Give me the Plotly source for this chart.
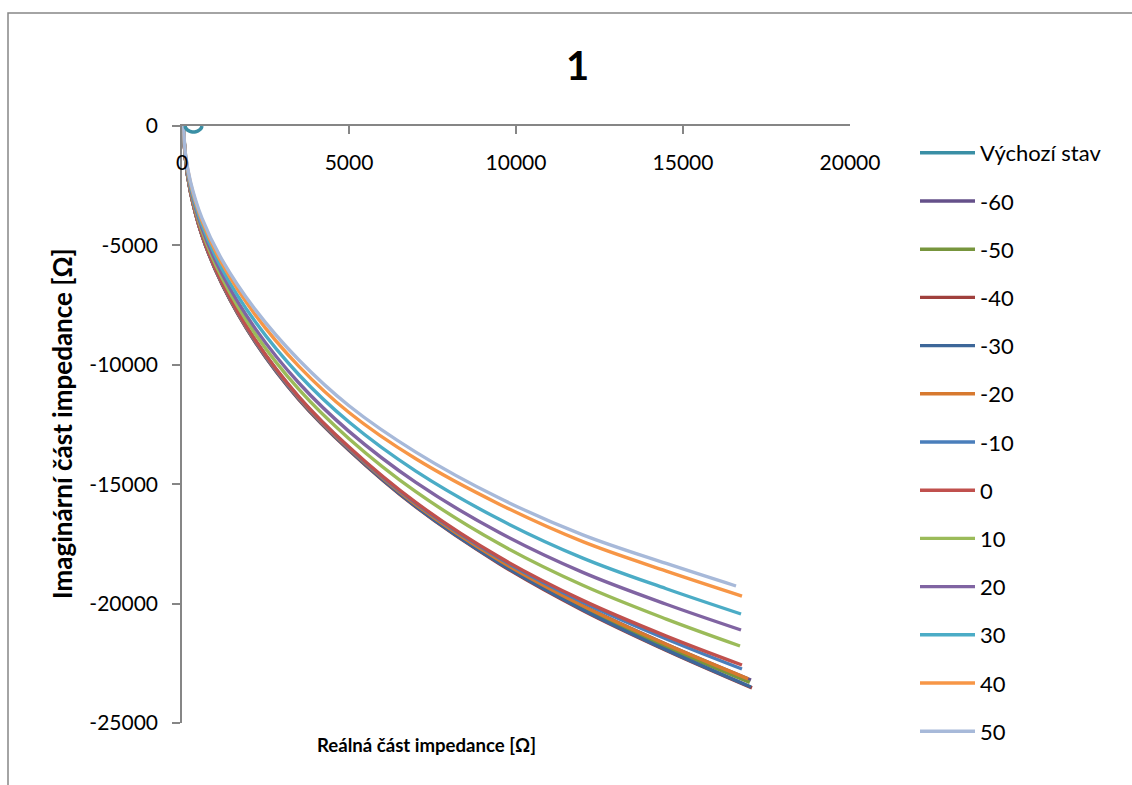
import plotly.graph_objects as go

# Series names and colours
names = ["Výchozí stav", "-60", "-50", "-40", "-30", "-20", "-10",
         "0", "10", "20", "30", "40", "50"]
colors = ["#3A8FA5", "#65508A", "#77953D", "#A0403D", "#3D6799", "#D7792F",
          "#4A7EBB", "#C0504D", "#9BBB59", "#8064A2", "#4BACC6", "#F79646",
          "#A7B9D9"]

# Initial state: small arc near the origin
re_vychozi = [95, 110, 150, 210, 280, 345, 410, 480, 540, 580, 595]
im_vychozi = [0, -80, -150, -205, -240, -252, -240, -205, -150, -80, 0]

# Real part samples shared by the temperature series (last point per series below)
re_grid = [50, 100, 250, 600, 1200, 2200, 3500, 5000, 7000, 9500, 12000, 14500]

re_end = {"-60": 17036, "-50": 17000, "-40": 17066, "-30": 17036, "-20": 16950,
          "-10": 16766, "0": 16766, "10": 16707, "20": 16737, "30": 16737,
          "40": 16766, "50": 16587}

im_m60 = [0, -1335, -2725, -4558, -6584, -9008, -11381, -13494, -15838, -18173, -20082, -21702, -23199]
im_m50 = [0, -1339, -2733, -4570, -6601, -9032, -11409, -13526, -15881, -18231, -20165, -21814, -23300]
im_m40 = [0, -1345, -2745, -4590, -6630, -9070, -11455, -13580, -15955, -18330, -20285, -21960, -23530]
im_m30 = [0, -1343, -2741, -4583, -6620, -9056, -11438, -13561, -15932, -18303, -20253, -21938, -23492]
im_m20 = [0, -1337, -2728, -4563, -6591, -9018, -11392, -13505, -15852, -18187, -20092, -21709, -23150]
im_m10 = [0, -1333, -2721, -4550, -6574, -8995, -11364, -13472, -15796, -18096, -19943, -21483, -22739]
im_p0 = [0, -1330, -2714, -4540, -6558, -8974, -11339, -13444, -15762, -18052, -19864, -21359, -22571]
im_p10 = [0, -1290, -2632, -4406, -6368, -8719, -11031, -13093, -15313, -17497, -19234, -20650, -21775]
im_p20 = [0, -1255, -2561, -4288, -6201, -8496, -10762, -12787, -14925, -17024, -18693, -20027, -21105]
im_p30 = [0, -1210, -2469, -4138, -5986, -8210, -10416, -12398, -14453, -16471, -18095, -19379, -20435]
im_p40 = [0, -1164, -2375, -3985, -5769, -7919, -10065, -11998, -13936, -15836, -17405, -18637, -19682]
im_p50 = [0, -1130, -2305, -3870, -5605, -7700, -9800, -11715, -13655, -15580, -17120, -18320, -19263]

im_series = {"-60": im_m60, "-50": im_m50, "-40": im_m40, "-30": im_m30,
             "-20": im_m20, "-10": im_m10, "0": im_p0, "10": im_p10,
             "20": im_p20, "30": im_p30, "40": im_p40, "50": im_p50}

tick_x = [0, 5000, 10000, 15000, 20000]
tick_y = [0, -5000, -10000, -15000, -20000, -25000]

FONT = "Lato"

fig = go.Figure()
# first series sits on the overlaid x axis that carries the tick labels
fig.add_trace(go.Scatter(x=re_vychozi, y=im_vychozi, mode="lines",
                         name=names[0], legendgroup=names[0], xaxis="x2",
                         line=dict(color=colors[0], width=3.5, shape="spline")))
for name, color in zip(names[1:], colors[1:]):
    xs = re_grid + [re_end[name]]
    fig.add_trace(go.Scatter(x=xs, y=im_series[name], mode="lines",
                             name=name, legendgroup=name,
                             line=dict(color=color, width=3.4, shape="spline")))

axis_col = "#868686"
tickfont = dict(family=FONT, size=21, color="black")

L, R, T, B = 182, 282, 126, 62
W, H = 1132, 785
pw, ph = W - L - R, H - T - B

def px(xp):
    return (xp - L) / pw

def py(yp):
    return (H - B - yp) / ph

fig.update_layout(
    width=W, height=H,
    margin=dict(l=L, r=R, t=T, b=B, autoexpand=False),
    paper_bgcolor="white", plot_bgcolor="white",
    font=dict(family=FONT, color="black"),
    xaxis=dict(range=[0, 20000], tickvals=tick_x, side="top",
               showline=True, linecolor=axis_col, linewidth=1.5,
               ticks="inside", ticklen=8, tickcolor=axis_col, tickwidth=1.5,
               showticklabels=False, showgrid=False, zeroline=False),
    xaxis2=dict(range=[0, 20000], matches="x", overlaying="x",
                anchor="free", position=1, side="bottom",
                tickvals=tick_x, ticktext=[str(v) for v in tick_x],
                ticks="", showline=False, showgrid=False, zeroline=False,
                ticklabelstandoff=22, tickfont=tickfont),
    yaxis=dict(range=[-25000, 0], tickvals=tick_y,
               ticktext=[str(v) for v in tick_y],
               showline=True, linecolor=axis_col, linewidth=1.5,
               ticks="outside", ticklen=8, tickcolor=axis_col, tickwidth=1.5,
               ticklabelstandoff=10, showgrid=False, zeroline=False,
               tickfont=tickfont),
    legend=dict(x=px(915), y=py(132), xanchor="left", yanchor="top",
                maxheight=760,
                font=dict(family=FONT, size=22, color="black"),
                itemwidth=55, tracegroupgap=16.6, traceorder="grouped",
                bgcolor="rgba(0,0,0,0)"),
    annotations=[
        dict(text="<b>1</b>", x=px(577), y=py(65), xref="paper", yref="paper",
             xanchor="center", yanchor="middle", showarrow=False,
             font=dict(family=FONT, size=40, color="black")),
        dict(text="<b>Reálná část impedance [Ω]</b>", x=px(426), y=py(745),
             xref="paper", yref="paper", xanchor="center", yanchor="middle",
             showarrow=False, font=dict(family=FONT, size=18.6, color="black")),
        dict(text="<b>Imaginární část impedance [Ω]</b>", x=px(62), y=py(424),
             xref="paper", yref="paper", xanchor="center", yanchor="middle",
             showarrow=False, textangle=-90,
             font=dict(family=FONT, size=26, color="black")),
    ],
    shapes=[
        dict(type="rect", xref="paper", yref="paper",
             x0=px(8), y0=py(900), x1=px(1200), y1=py(13),
             line=dict(color=axis_col, width=1.5), fillcolor="rgba(0,0,0,0)",
             layer="below"),
    ],
)

fig.write_html("out.html")
